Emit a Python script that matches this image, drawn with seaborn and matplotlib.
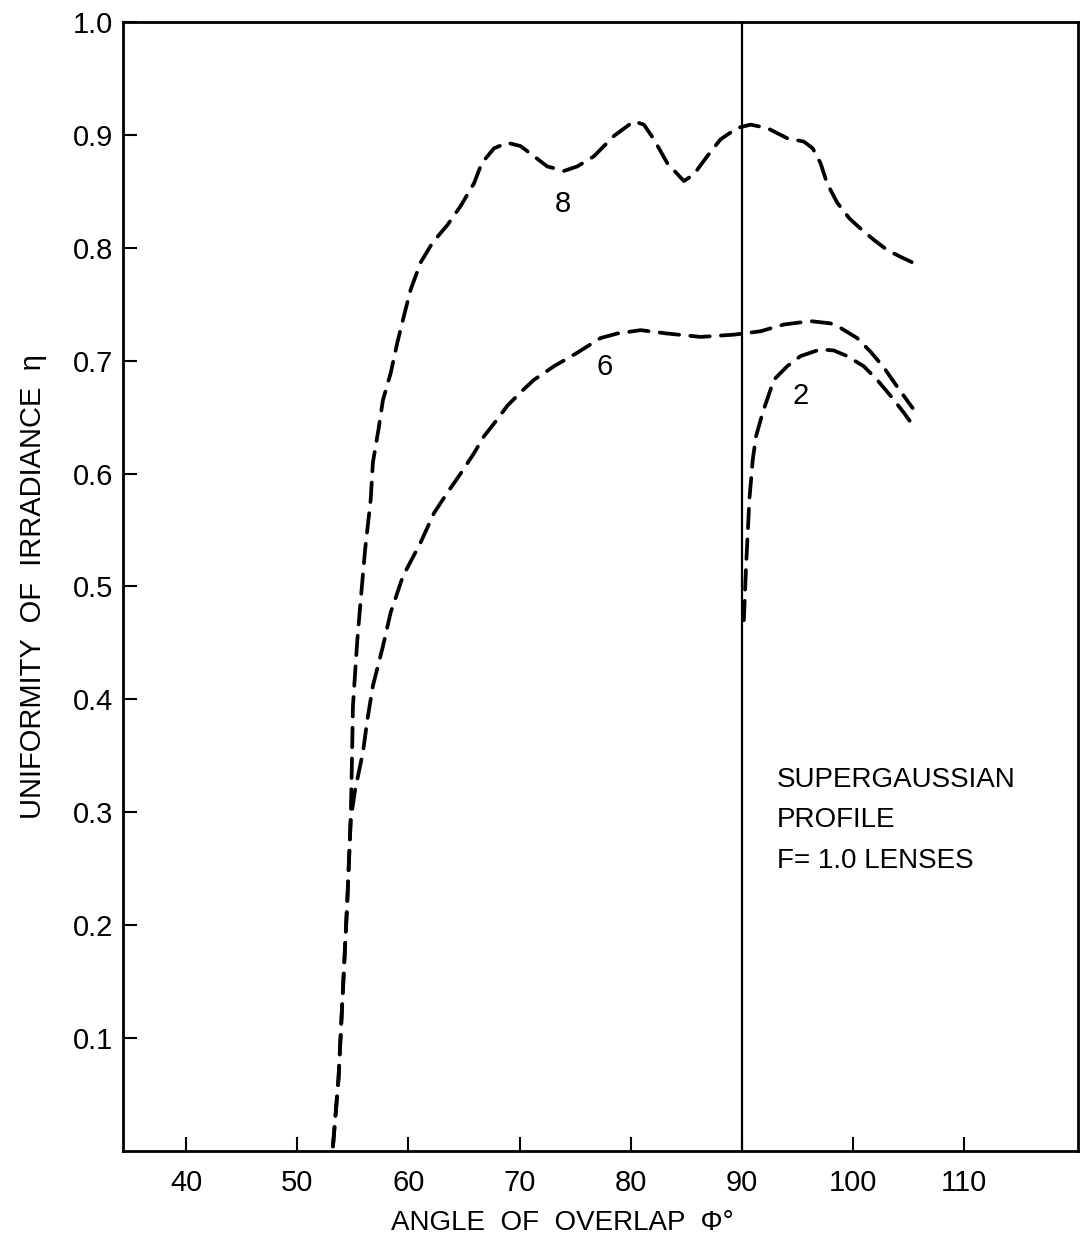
import matplotlib
matplotlib.use("Agg")
import matplotlib.pyplot as plt
import seaborn as sns
import pandas as pd

# ---- data ----
angle_8 = [53.2, 53.7, 54.1, 54.5, 54.8, 54.9, 55.0, 55.2, 55.4, 55.7,
           56.1, 56.6, 56.8, 57.3, 57.7, 58.4, 59.0, 59.5, 60.2, 61.1,
           62.2, 63.5, 64.7, 65.9, 66.6, 67.7, 68.9, 70.1, 71.3, 72.5,
           74.0, 75.2, 76.7, 78.5, 80.3, 81.2, 82.1, 83.3, 84.8, 85.7,
           86.9, 88.1, 89.6, 90.8, 92.3, 94.1, 95.6, 96.4, 97.1, 97.7,
           98.6, 99.7, 100.7, 101.9, 103.1, 104.3, 105.8]
eta_8 = [0.004, 0.064, 0.143, 0.223, 0.294, 0.340, 0.394, 0.424, 0.453, 0.488,
         0.533, 0.577, 0.610, 0.639, 0.665, 0.689, 0.716, 0.736, 0.763, 0.787,
         0.805, 0.820, 0.837, 0.857, 0.875, 0.888, 0.893, 0.890, 0.881, 0.872,
         0.868, 0.872, 0.881, 0.899, 0.912, 0.909, 0.896, 0.875, 0.859, 0.865,
         0.881, 0.896, 0.906, 0.909, 0.906, 0.897, 0.894, 0.888, 0.875, 0.857,
         0.840, 0.826, 0.817, 0.807, 0.798, 0.792, 0.785]

angle_6 = [53.2, 53.7, 54.1, 54.5, 54.8, 55.2, 55.9, 56.3, 56.8, 57.7,
           58.4, 59.5, 61.1, 62.3, 63.5, 64.7, 65.9, 66.8, 68.0, 68.9,
           70.1, 71.3, 73.1, 75.2, 77.3, 78.8, 80.9, 83.3, 86.3, 89.3,
           91.7, 93.8, 96.2, 98.0, 98.9, 100.4, 101.6, 102.8, 104.0, 105.4]
eta_6 = [0.004, 0.064, 0.143, 0.223, 0.294, 0.320, 0.353, 0.382, 0.412, 0.447,
         0.477, 0.509, 0.539, 0.565, 0.583, 0.600, 0.618, 0.633, 0.648, 0.660,
         0.672, 0.683, 0.695, 0.707, 0.720, 0.724, 0.727, 0.724, 0.721, 0.723,
         0.726, 0.732, 0.735, 0.733, 0.729, 0.720, 0.708, 0.694, 0.677, 0.658]

angle_2 = [90.2, 90.4, 90.7, 91.0, 91.3, 91.9, 92.9, 94.1, 95.3, 97.1,
           98.3, 99.5, 101.0, 102.2, 103.4, 104.6, 105.7]
eta_2 = [0.470, 0.518, 0.577, 0.612, 0.633, 0.654, 0.683, 0.695, 0.704, 0.710,
         0.709, 0.704, 0.695, 0.683, 0.669, 0.654, 0.639]

curve_labels = ["8", "6", "2"]
label_x = [73.9, 77.7, 95.3]
label_y = [0.839, 0.694, 0.669]

x_ticks = [40, 50, 60, 70, 80, 90, 100, 110]
y_ticks = [0.1, 0.2, 0.3, 0.4, 0.5, 0.6, 0.7, 0.8, 0.9, 1.0]
y_ticklabels = ["0.1", "0.2", "0.3", "0.4", "0.5", "0.6", "0.7", "0.8", "0.9", "1.0"]

note_text = "SUPERGAUSSIAN\nPROFILE\nF= 1.0 LENSES"

# ---- styling ----
sns.set_style("ticks")
plt.rcParams["font.family"] = ["Liberation Sans", "DejaVu Sans"]

fig = plt.figure(figsize=(10.89, 12.38), dpi=100)
ax = fig.add_axes([0.113, 0.0703, 0.877, 0.912])

curves = [(angle_8, eta_8), (angle_6, eta_6), (angle_2, eta_2)]
for (xs, ys), name in zip(curves, curve_labels):
    df = pd.DataFrame({"angle": xs, "eta": ys})
    sns.lineplot(data=df, x="angle", y="eta", ax=ax, color="black",
                 estimator=None, sort=False, linewidth=2.7)

for line in ax.lines:
    line.set_dashes((5.2, 3.0))
    line.set_dash_capstyle("round")

ax.axvline(90, color="black", linewidth=1.6)

for t, xx, yy in zip(curve_labels, label_x, label_y):
    ax.text(xx, yy, t, fontsize=21, ha="center", va="center", color="black")

ax.text(93.15, 0.340, note_text, fontsize=20, ha="left", va="top",
        linespacing=1.72, color="black")

ax.set_xlim(34.3, 120.3)
ax.set_ylim(0, 1.0)
ax.set_xticks(x_ticks)
ax.set_xticklabels([str(v) for v in x_ticks])
ax.set_yticks(y_ticks)
ax.set_yticklabels(y_ticklabels)

ax.tick_params(axis="both", direction="in", length=10, width=1.5,
               labelsize=21, colors="black")
ax.tick_params(axis="x", pad=13)
ax.tick_params(axis="y", pad=7)

for s in ax.spines.values():
    s.set_visible(True)
    s.set_linewidth(2.0)
    s.set_color("black")

ax.set_xlabel("ANGLE  OF  OVERLAP  Φ°", fontsize=20, color="black")
ax.set_ylabel("UNIFORMITY  OF  IRRADIANCE  η", fontsize=21, color="black")
ax.xaxis.set_label_coords(0.46, -0.052)
ax.yaxis.set_label_coords(-0.080, 0.5)

fig.savefig("out.png", dpi=100)
